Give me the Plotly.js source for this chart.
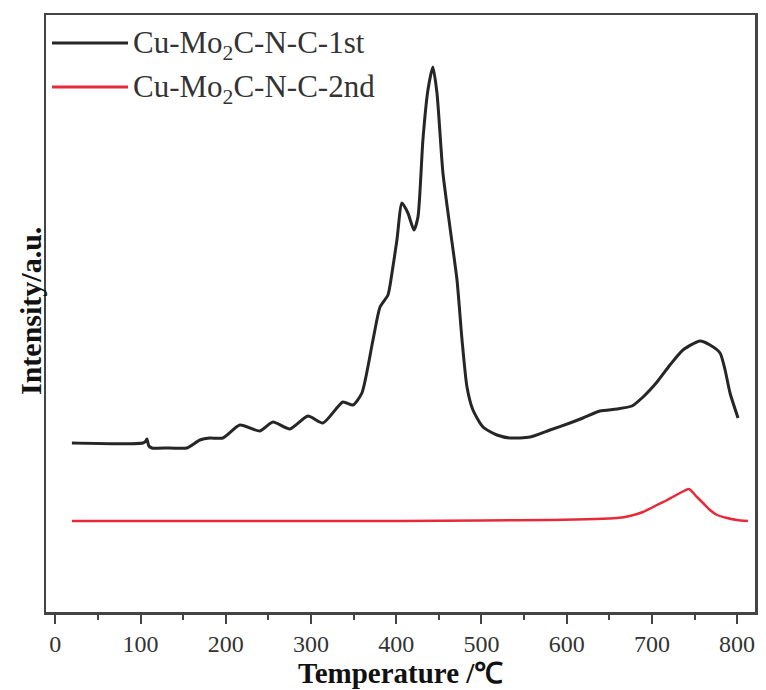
<!DOCTYPE html>
<html>
<head>
<meta charset="utf-8">
<script src="https://cdn.plot.ly/plotly-3.0.1.min.js"></script>
<style>html,body{margin:0;padding:0;background:#fff;}#chart{width:766px;height:690px;}</style>
</head>
<body>
<div id="chart"></div>
<script>
// Temperature (°C) and intensity (a.u.)
const tempFirst = [19.4,102.7,106.2,107.4,109.7,113.3,134.4,154.3,169.6,181.3,196.6,216.5,240,255.3,275.2,296.4,314,337.4,349.2,359.7,372.7,381,390.3,395,400.8,406.7,413.7,420.8,425.5,431.3,437.2,443,447.8,454.8,463,471.3,477.2,483,490,501.8,518.2,533.5,557,580.4,603.8,619.1,639,659,676.6,689.6,706,721.2,736.5,756.4,768.2,780,785.9,791.7,801.1];
const intFirst  = [169,169,171,173,166,164,164,164,172,174,174,187,181,190,183,196,189,210,207,219,272,305,317,339,372,409,399,382,395,472,522,545,519,439,385,332,272,225,202,185,177,174,175,182,189,194,201,203,206,215,230,247,262,271,267,259,242,219,194];

const tempSecond = [19.4,169.6,300,403.8,500,580.4,659,674,689.6,706,718,733,743.5,752.9,760,768.2,776.5,788.1,800,812.7];
const intSecond  = [91,91,91,91,91.5,92,94,96,100,107,112,119,123,115,109,102,97,94,92,91];

const seriesNames = ["Cu-Mo<sub>2</sub>C-N-C-1st", "Cu-Mo<sub>2</sub>C-N-C-2nd"];
const seriesColors = ["#262626", "#e62a3a"];
const xTicks = [0,100,200,300,400,500,600,700,800];

const traces = [
  {x: tempFirst, y: intFirst, type: 'scatter', mode: 'lines', name: seriesNames[0],
   line: {color: seriesColors[0], width: 3, shape: 'spline', smoothing: 0.6}},
  {x: tempSecond, y: intSecond, type: 'scatter', mode: 'lines', name: seriesNames[1],
   line: {color: seriesColors[1], width: 2.5, shape: 'spline', smoothing: 0.5}}
];

const fontFam = '"Liberation Serif", "Times New Roman", serif';
const L = 46, R = 755, T = 15, B = 612;
const W = 766, H = 690;
function px2x(p){ return (p - L) / (R - L); }
function py2y(p){ return (B - p) / (B - T); }

const legendRows = [43, 87];
const shapes = [], annotations = [];
legendRows.forEach((row, i) => {
  shapes.push({type: 'line', xref: 'paper', yref: 'paper',
    x0: px2x(52), x1: px2x(128), y0: py2y(row), y1: py2y(row),
    line: {color: seriesColors[i], width: 3}});
  annotations.push({xref: 'paper', yref: 'paper', x: px2x(131), y: py2y(row + 2),
    xanchor: 'left', yanchor: 'middle', showarrow: false, text: seriesNames[i],
    font: {family: fontFam, size: 31, color: '#333'}});
});
// y-axis title placed as rotated text left of the frame
annotations.push({xref: 'paper', yref: 'paper', x: px2x(30), y: py2y(311),
  xanchor: 'center', yanchor: 'middle', showarrow: false, textangle: -90,
  text: '<b>Intensity/a.u.</b>', font: {family: fontFam, size: 30, color: '#111'}});
// x-axis title placed below the tick labels
annotations.push({xref: 'paper', yref: 'paper', x: px2x(400), y: py2y(673),
  xanchor: 'center', yanchor: 'middle', showarrow: false,
  text: '<b>Temperature /℃</b>', font: {family: fontFam, size: 29, color: '#111'}});

const layout = {
  width: W, height: H,
  margin: {l: L, r: W - R, t: T, b: H - B, pad: 0},
  paper_bgcolor: '#fff', plot_bgcolor: '#fff',
  showlegend: false,
  font: {family: fontFam, color: '#222'},
  xaxis: {
    range: [-11, 821], tickvals: xTicks, ticks: 'outside', ticklen: 9, tickwidth: 2, tickcolor: '#444',
    minor: {dtick: 50, tick0: 0, ticks: 'outside', ticklen: 5, tickwidth: 2, tickcolor: '#444'},
    showline: true, mirror: true, linecolor: '#444', linewidth: 2.5,
    showgrid: false, zeroline: false,
    tickfont: {family: fontFam, size: 24, color: '#333'}
  },
  yaxis: {
    range: [0, 597], showticklabels: false, ticks: '',
    showline: true, mirror: true, linecolor: '#444', linewidth: 2.5,
    showgrid: false, zeroline: false
  },
  shapes: shapes,
  annotations: annotations
};

Plotly.newPlot('chart', traces, layout, {staticPlot: true, displayModeBar: false});
</script>
</body>
</html>
